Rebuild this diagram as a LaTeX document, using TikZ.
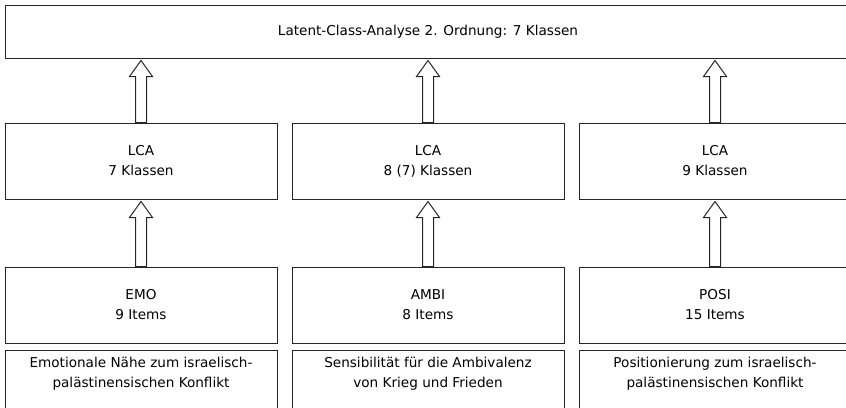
\documentclass[tikz,border=0pt]{standalone}
\usepackage{fontspec}
\setmainfont{DejaVu Sans}
\usetikzlibrary{calc}

\begin{document}
\begin{tikzpicture}[
  x=1pt, y=-1pt,
  box/.style={draw=black!85, line width=1pt, minimum width=272pt, minimum height=76pt, inner sep=0pt, align=center, font=\fontsize{13.6}{20}\selectfont},
  descbox/.style={box, anchor=north, minimum height=0pt, inner sep=3pt, text height=34pt, text depth=25pt},
  hollow/.style={draw=black!85, line width=1pt, line join=miter, to path={
    let \p1=(\tikztostart), \p2=(\tikztotarget) in
    (\x1-5.5pt,\y1) -- (\x1-5.5pt,\y2-18pt) -- (\x1-11.5pt,\y2-18pt) -- (\x1,\y2-2pt)
    -- (\x1+11.5pt,\y2-18pt) -- (\x1+5.5pt,\y2-18pt) -- (\x1+5.5pt,\y1) -- cycle}},
]
\useasboundingbox (0,0) rectangle (846,407);

% second order
\node[box, minimum width=846pt, minimum height=53pt] (lca2) at (428,31.5) {Latent-Class-Analyse 2. Ordnung: 7 Klassen};

% first order LCA
\node[box] (lcaemo) at (141,161) {LCA\\7 Klassen};
\node[box] (lcaambi) at (428,161) {LCA\\8 (7) Klassen};
\node[box] (lcaposi) at (715,161) {LCA\\9 Klassen};

% item sets
\node[box] (emo) at (141,305) {EMO\\9 Items};
\node[box] (ambi) at (428,305) {AMBI\\8 Items};
\node[box] (posi) at (715,305) {POSI\\15 Items};

% descriptions
\node[descbox] (emotxt) at (141,350) {Emotionale Nähe zum israelisch-\\palästinensischen Konflikt};
\node[descbox] (ambitxt) at (428,350) {Sensibilität für die Ambivalenz\\von Krieg und Frieden};
\node[descbox] (positxt) at (715,350) {Positionierung zum israelisch-\\palästinensischen Konflikt};

% arrows
\draw[hollow] (emo.north) to (lcaemo.south);
\draw[hollow] (ambi.north) to (lcaambi.south);
\draw[hollow] (posi.north) to (lcaposi.south);

\draw[hollow] (lcaemo.north) to (lcaemo.north |- lca2.south);
\draw[hollow] (lcaambi.north) to (lcaambi.north |- lca2.south);
\draw[hollow] (lcaposi.north) to (lcaposi.north |- lca2.south);

\end{tikzpicture}
\end{document}
